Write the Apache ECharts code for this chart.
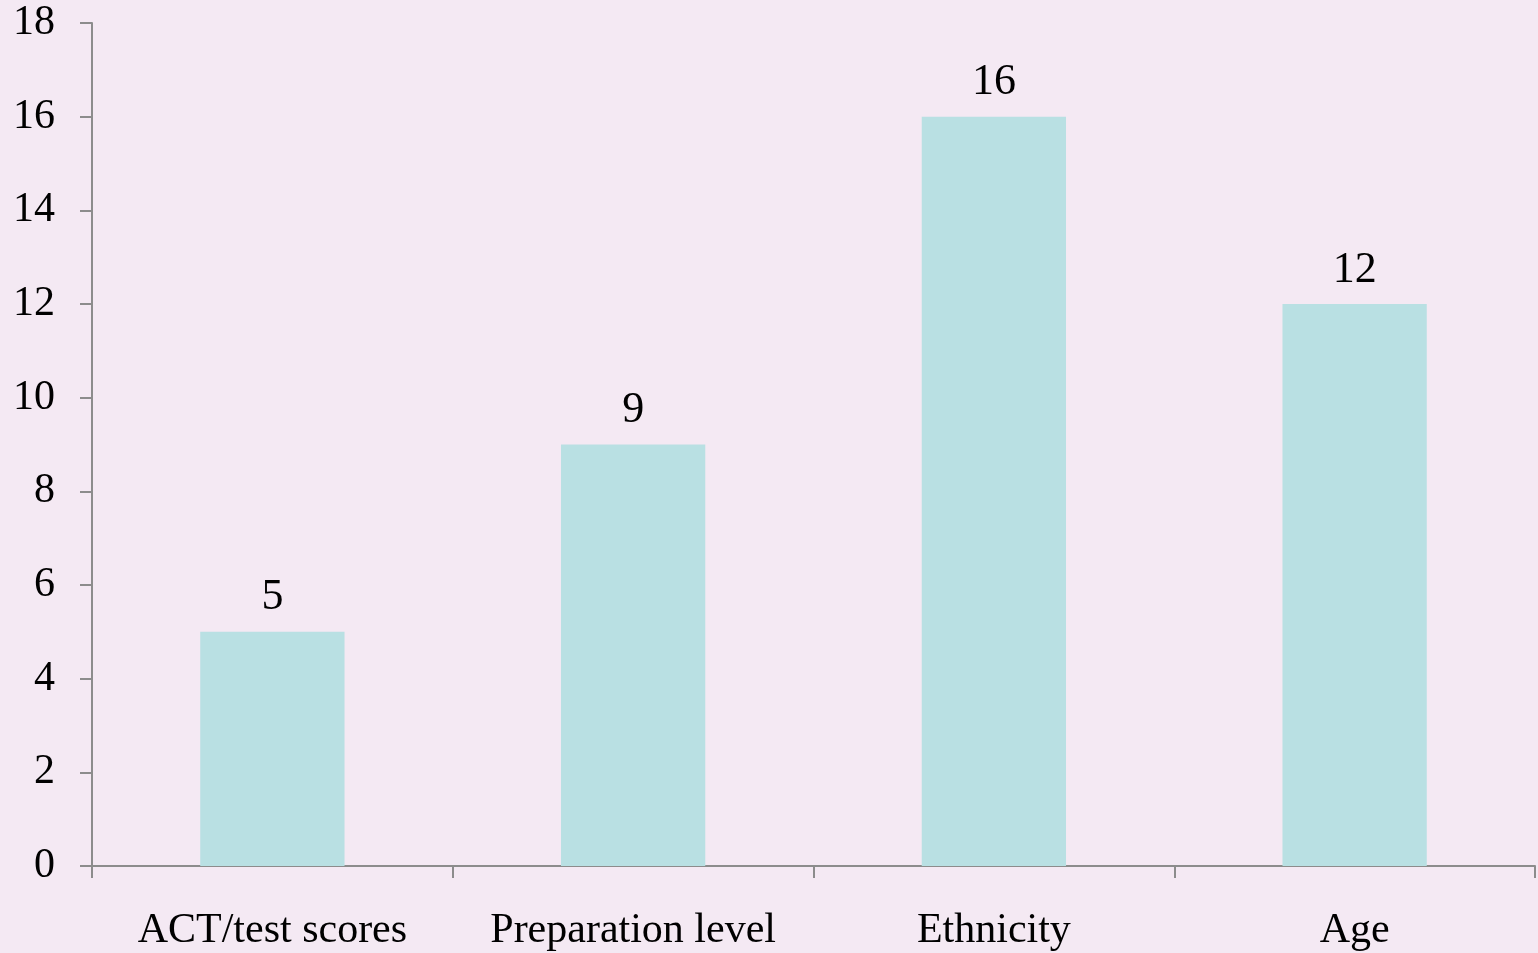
<!DOCTYPE html>
<html>
<head>
<meta charset="utf-8">
<script src="https://cdn.jsdelivr.net/npm/echarts@6/dist/echarts.min.js"></script>
<style>
  html, body { margin: 0; padding: 0; background: #f4e9f3; }
  #chart { width: 1538px; height: 953px; }
</style>
</head>
<body>
<div id="chart"></div>
<script>
const categories = ['ACT/test scores', 'Preparation level', 'Ethnicity', 'Age']
const values = [5, 9, 16, 12]
const yMin = 0
const yMax = 18
const yStep = 2

const chart = echarts.init(document.getElementById('chart'))
const axisColor = '#8c8c8c'
const font = '"Liberation Serif", "Times New Roman", serif'

chart.setOption({
  backgroundColor: '#f4e9f3',
  animation: false,
  grid: { left: 92, right: 3, top: 23, bottom: 87, containLabel: false },
  xAxis: {
    type: 'category',
    data: categories,
    axisLine: { lineStyle: { color: axisColor, width: 2 } },
    axisTick: { show: true, length: 12, alignWithLabel: false, lineStyle: { color: axisColor, width: 2 } },
    axisLabel: { color: '#000', fontFamily: font, fontSize: 42, margin: 44, interval: 0 }
  },
  yAxis: {
    type: 'value',
    min: yMin,
    max: yMax,
    interval: yStep,
    splitLine: { show: false },
    axisLine: { show: true, lineStyle: { color: axisColor, width: 2 } },
    axisTick: { show: true, length: 12, lineStyle: { color: axisColor, width: 2 } },
    axisLabel: { color: '#000', fontFamily: font, fontSize: 42, margin: 37 }
  },
  series: [
    {
      type: 'bar',
      data: values,
      barWidth: '40%',
      itemStyle: { color: '#b9e0e3' },
      label: {
        show: true,
        position: 'top',
        distance: 12,
        color: '#000',
        fontFamily: font,
        fontSize: 44
      }
    }
  ]
})
</script>
</body>
</html>
